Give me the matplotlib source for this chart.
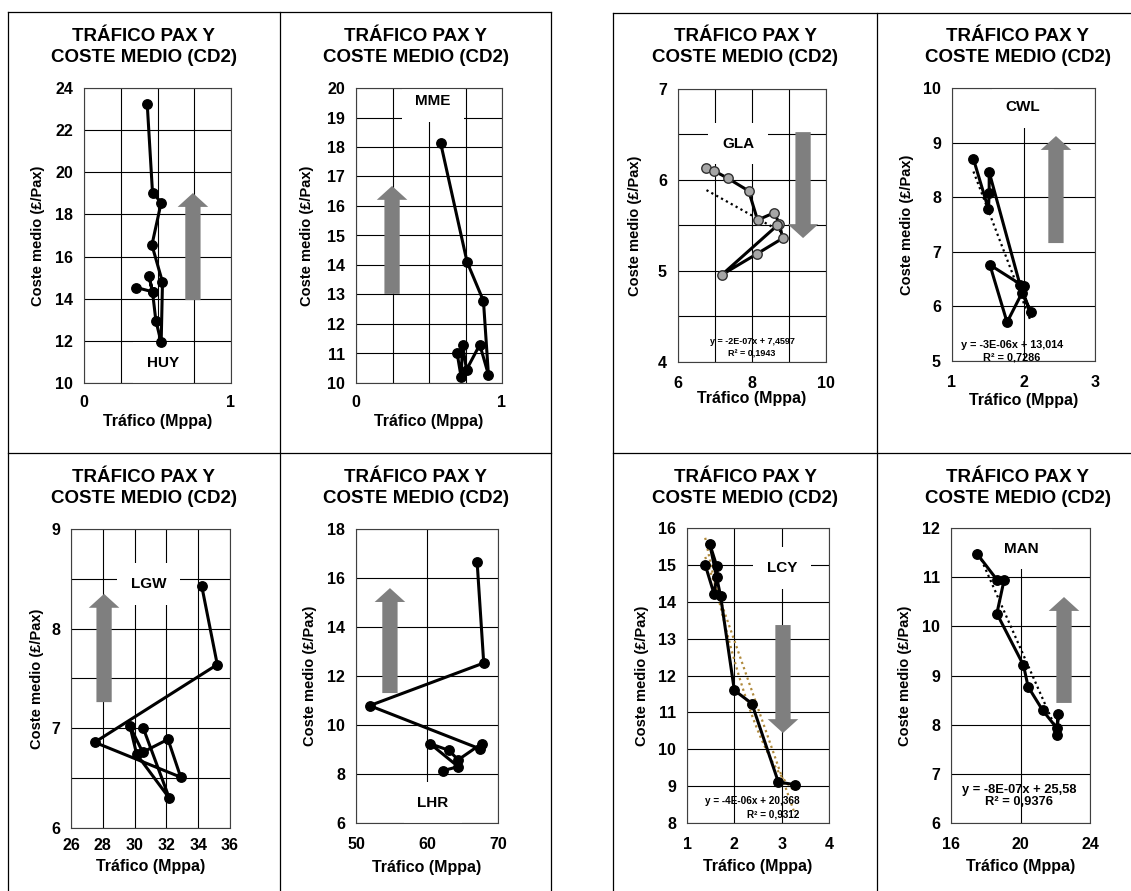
import matplotlib
matplotlib.use("Agg")
import matplotlib.pyplot as plt
import numpy as np
from matplotlib.lines import Line2D

plt.rcParams['font.family'] = ['Liberation Sans', 'DejaVu Sans']
plt.rcParams['font.weight'] = 'bold'

W, H = 1131, 891
TITLE = "TRÁFICO PAX Y\nCOSTE MEDIO (CD2)"
XLABEL = "Tráfico (Mppa)"
YLABEL = "Coste medio (£/Pax)"

# traffic (Mppa) and average cost (GBP/pax), in the order the lines are drawn
huy_x = [0.357, 0.466, 0.441, 0.466, 0.489, 0.525, 0.534, 0.462, 0.525, 0.466, 0.430]
huy_y = [14.53, 14.33, 15.10, 14.33, 12.95, 11.93, 14.79, 16.55, 18.56, 19.04, 23.25]

mme_x = [0.580, 0.761, 0.873, 0.907, 0.848, 0.757, 0.730, 0.720, 0.693]
mme_y = [18.13, 14.10, 12.78, 10.28, 11.30, 10.45, 11.30, 10.20, 11.00]

gla_x = [6.77, 6.98, 7.34, 7.91, 8.15, 8.60, 8.74, 8.83, 8.14, 7.19, 8.68]
gla_y = [6.13, 6.10, 6.02, 5.88, 5.56, 5.64, 5.52, 5.36, 5.19, 4.96, 5.50]

cwl_x = [1.30, 1.51, 1.52, 1.52, 1.95, 2.10, 1.98, 1.77, 1.53, 2.00]
cwl_y = [8.70, 7.78, 8.08, 8.46, 6.40, 5.89, 6.25, 5.71, 6.76, 6.37]

lgw_x = [34.22, 35.20, 27.49, 32.90, 32.10, 30.51, 29.71, 30.13, 32.18, 30.55]
lgw_y = [8.43, 7.64, 6.86, 6.51, 6.89, 6.76, 7.02, 6.74, 6.30, 7.00]

lhr_x = [67.06, 67.99, 51.92, 67.52, 67.70, 64.40, 63.04, 60.42, 64.40, 62.30]
lhr_y = [16.65, 12.53, 10.79, 9.02, 9.24, 8.58, 8.97, 9.24, 8.30, 8.14]

lcy_x = [1.385, 1.57, 1.63, 1.63, 1.48, 1.71, 2.00, 2.37, 2.93, 3.28]
lcy_y = [15.00, 14.22, 14.67, 14.96, 15.57, 14.15, 11.60, 11.24, 9.11, 9.04]

man_x = [17.49, 18.64, 19.06, 18.64, 20.17, 20.44, 21.28, 22.09, 22.18, 22.09]
man_y = [11.48, 10.95, 10.95, 10.26, 9.21, 8.77, 8.29, 7.93, 8.22, 7.78]

panels = [
    dict(code='HUY', x=huy_x, y=huy_y, box=(84, 88, 231, 383), title=(144, 47),
         xlim=(0, 1), xticks=[0, 1], xgrid=0.25, ylim=(10, 24), yticks=np.arange(10, 25, 2), ygrid=2,
         lab=(0.537, 0.068), arrow=(0.741, 0.281, 0.644), ylx=-0.31, xly=-0.129, xpad=9),
    dict(code='MME', x=mme_x, y=mme_y, box=(356, 88, 502, 383), title=(416, 47),
         xlim=(0, 1), xticks=[0, 1], xgrid=0.25, ylim=(10, 20), yticks=np.arange(10, 21, 1), ygrid=1,
         lab=(0.527, 0.955), arrow=(0.247, 0.302, 0.668), ylx=-0.336, xly=-0.129, xpad=9),
    dict(code='GLA', x=gla_x, y=gla_y, box=(678, 89, 826, 362), title=(745, 47),
         xlim=(6, 10), xticks=[6, 8, 10], xgrid=1, ylim=(4, 7), yticks=[4, 5, 6, 7], ygrid=0.5,
         lab=(0.405, 0.80), arrow=(0.845, 0.842, 0.454), ylx=-0.29, xly=-0.132, xpad=10,
         fill='#a6a6a6', trend='k',
         eq=("y = -2E-07x + 7,4597", "R² = 0,1943", 0.5, 0.075, 0.028, 6.5, 'center')),
    dict(code='CWL', x=cwl_x, y=cwl_y, box=(952, 88, 1095, 361), title=(1018, 47),
         xlim=(1, 3), xticks=[1, 2, 3], xgrid=1, ylim=(5, 10), yticks=np.arange(5, 11, 1), ygrid=1,
         lab=(0.497, 0.93), arrow=(0.727, 0.432, 0.824), ylx=-0.315, xly=-0.143, xpad=10,
         trend='k',
         eq=("y = -3E-06x + 13,014", "R² = 0,7286", 0.42, 0.058, 0.012, 7.8, 'center')),
    dict(code='LGW', x=lgw_x, y=lgw_y, box=(71, 529, 230, 828), title=(144, 488),
         xlim=(26, 36), xticks=np.arange(26, 37, 2), xgrid=2, ylim=(6, 9), yticks=[6, 7, 8, 9], ygrid=0.5,
         lab=(0.49, 0.816), arrow=(0.208, 0.421, 0.783), ylx=-0.214, xly=-0.13, xpad=7),
    dict(code='LHR', x=lhr_x, y=lhr_y, box=(356, 529, 498, 823), title=(416, 488),
         xlim=(50, 70), xticks=[50, 60, 70], xgrid=10, ylim=(6, 18), yticks=np.arange(6, 19, 2), ygrid=2,
         lab=(0.542, 0.068), arrow=(0.239, 0.442, 0.799), ylx=-0.324, xly=-0.15, xpad=10),
    dict(code='LCY', x=lcy_x, y=lcy_y, box=(687, 528, 829, 823), title=(745, 488),
         xlim=(1, 4), xticks=[1, 2, 3, 4], xgrid=1, ylim=(8, 16), yticks=np.arange(8, 17, 1), ygrid=1,
         lab=(0.669, 0.864), arrow=(0.676, 0.671, 0.305), ylx=-0.317, xly=-0.149, xpad=10,
         trend='#b08a3c', trend2=True,
         eq=("y = -4E-06x + 20,368", "R² = 0,9312", 0.79, 0.075, 0.03, 7.2, 'right')),
    dict(code='MAN', x=man_x, y=man_y, box=(951, 528, 1090, 823), title=(1018, 488),
         xlim=(16, 24), xticks=[16, 20, 24], xgrid=4, ylim=(6, 12), yticks=np.arange(6, 13, 1), ygrid=1,
         lab=(0.504, 0.93), arrow=(0.813, 0.407, 0.766), ylx=-0.331, xly=-0.149, xpad=10,
         trend='k',
         eq=("y = -8E-07x + 25,58", "R² = 0,9376", 0.49, 0.112, 0.07, 9.3, 'center')),
]

fig = plt.figure(figsize=(W / 100, H / 100), dpi=100)


def fig_box(x0, y0, x1, y1):
    return [x0 / W, 1 - y1 / H, (x1 - x0) / W, (y1 - y0) / H]


for p in panels:
    ax = fig.add_axes(fig_box(*p['box']))
    ax.set_xlim(*p['xlim'])
    ax.set_ylim(*p['ylim'])
    ax.set_xticks(p['xticks'])
    ax.set_yticks(p['yticks'])
    ax.set_xticks(np.arange(p['xlim'][0], p['xlim'][1] + 1e-9, p['xgrid']), minor=True)
    ax.set_yticks(np.arange(p['ylim'][0], p['ylim'][1] + 1e-9, p['ygrid']), minor=True)
    ax.grid(True, which='both', color='black', linewidth=0.8)
    ax.tick_params(which='both', length=0, labelsize=11.5)
    ax.tick_params(axis='x', pad=p['xpad'])
    ax.tick_params(axis='y', pad=8)
    for lb in ax.get_xticklabels() + ax.get_yticklabels():
        lb.set_fontweight('bold')
    for s in ax.spines.values():
        s.set_linewidth(0.8)
        s.set_color('#404040')
    ax.set_axisbelow(True)

    ax.text(p['ylx'], 0.5, YLABEL, transform=ax.transAxes, rotation=90,
            ha='center', va='center', fontsize=10.5, fontweight='bold')
    ax.text(0.5, p['xly'], XLABEL, transform=ax.transAxes,
            ha='center', va='center', fontsize=11.5, fontweight='bold')

    # improvement / worsening arrow
    xa, y0, y1 = p['arrow']
    ax.annotate('', xy=(xa, y1), xytext=(xa, y0), xycoords='axes fraction',
                arrowprops=dict(arrowstyle='simple,head_length=10,head_width=22,tail_width=11',
                                mutation_scale=1, fc='#7f7f7f', ec='none',
                                shrinkA=0, shrinkB=0), zorder=3)

    ax.text(p['lab'][0], p['lab'][1], p['code'], transform=ax.transAxes, ha='center', va='center',
            fontsize=11, fontweight='bold', zorder=2,
            bbox=dict(boxstyle='square,pad=0.9', fc='white', ec='none'))

    if 'trend' in p:
        xs = np.array(p['x'])
        k, b = np.polyfit(xs, p['y'], 1)
        xr = np.array([xs.min(), xs.max()])
        ax.plot(xr, k * xr + b, linestyle=(0, (1, 1.5)), color=p['trend'], linewidth=1.6, zorder=4)
        if p.get('trend2'):
            c2 = np.polyfit(xs, p['y'], 2)
            xf = np.linspace(xs.min(), xs.max(), 50)
            ax.plot(xf, np.polyval(c2, xf), linestyle=(0, (1, 1.5)), color=p['trend'],
                    linewidth=1.6, zorder=4)

    ax.plot(p['x'], p['y'], color='black', linewidth=2.2, zorder=5,
            marker='o', markersize=6.8, markerfacecolor=p.get('fill', 'black'),
            markeredgecolor='#303030' if 'fill' in p else 'black', markeredgewidth=1)

    if 'eq' in p:
        l1, l2, ex, ey1, ey2, fs, ha = p['eq']
        ax.text(ex, ey1, l1, transform=ax.transAxes, ha=ha, va='center', fontsize=fs,
                fontweight='bold', zorder=6)
        ax.text(ex, ey2, l2, transform=ax.transAxes, ha=ha, va='center', fontsize=fs,
                fontweight='bold', zorder=6)

    fig.text(p['title'][0] / W, 1 - p['title'][1] / H, TITLE, ha='center', va='center',
             fontsize=13.5, fontweight='bold', linespacing=1.35)


# panel frame lines
def hline(y, x0, x1):
    fig.add_artist(Line2D([x0 / W, x1 / W], [1 - y / H, 1 - y / H], color='black', linewidth=0.9))


def vline(x, y0, y1):
    fig.add_artist(Line2D([x / W, x / W], [1 - y0 / H, 1 - y1 / H], color='black', linewidth=0.9))


hline(12, 8, 551)
hline(453, 8, 551)
for xv in (8, 280, 551):
    vline(xv, 12, 891)
hline(13, 613, 1131)
hline(453, 613, 1131)
for xv in (613, 877):
    vline(xv, 13, 891)

fig.savefig('out.png', dpi=100, facecolor='white')
